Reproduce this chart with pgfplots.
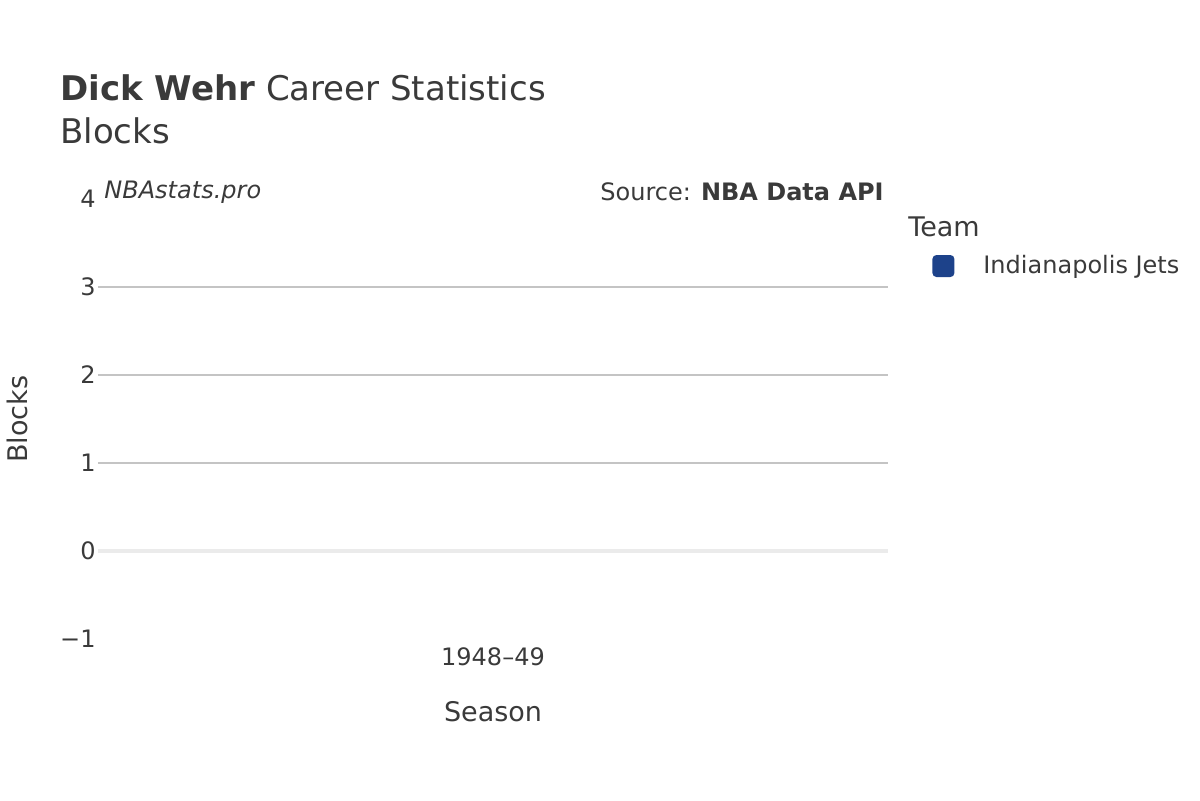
\documentclass[border=0pt]{standalone}
\usepackage{pgfplots}
\pgfplotsset{compat=1.18}
\usepackage{fontspec}
\setmainfont{DejaVu Sans}
\definecolor{txt}{HTML}{3A3A3A}
\definecolor{gridc}{HTML}{C4C4C4}
\definecolor{zeroc}{HTML}{EBEBEB}
\definecolor{jets}{HTML}{1D428A}
\begin{document}
\begin{tikzpicture}
% page frame: 1200x800 px at 0.5pt per px
\path (0,0) rectangle (600pt,400pt);
\begin{axis}[
    at={(49pt,80.5pt)}, anchor=south west,
    scale only axis, width=395pt, height=220pt,
    xmin=-0.5, xmax=0.5, ymin=-1, ymax=4,
    axis line style={draw=none},
    tick style={draw=none},
    xtick={0}, xticklabels={1948–49},
    ytick={1,2,3}, yticklabels={1,2,3},
    extra y ticks={-1,0,4}, extra y tick labels={−1,0,4},
    extra y tick style={grid=none},
    ymajorgrids, grid style={gridc, line width=0.8pt},
    ticklabel style={font=\fontsize{12pt}{14pt}\selectfont, text=txt},
    yticklabel style={inner sep=0pt, xshift=-1pt},
    xticklabel style={inner sep=0pt, yshift=-4pt},
    xlabel={Season}, ylabel={Blocks},
    label style={font=\fontsize{13.5pt}{16pt}\selectfont, text=txt},
    xlabel style={at={(0.5,0)}, anchor=base, yshift=-41pt},
    ylabel style={at={(0,0.5)}, anchor=center, inner sep=0pt, yshift=40.5pt},
    legend style={at={(1.0557,0.8477)}, anchor=west, draw=none, fill=none,
        inner sep=0pt, font=\fontsize{12pt}{14pt}\selectfont, text=txt,
        nodes={inner sep=0pt}},
    legend image code/.code={
        \path[draw=none] (0pt,0pt) -- (25.5pt,0pt);
        \fill[jets, draw=none, rounded corners=2pt] (0pt,-5.5pt) rectangle (11pt,5.5pt);},
]
% zero line
\draw[zeroc, line width=1.6pt] (rel axis cs:0,0.2) -- (rel axis cs:1,0.2);
% no blocks recorded for the season: legend only
\addlegendimage{}
\addlegendentry{Indianapolis Jets}
\end{axis}
\begin{scope}[x=0.5pt, y=-0.5pt, shift={(0,400pt)}]
\node[anchor=base west, inner sep=0pt, text=txt, font=\fontsize{17pt}{20pt}\selectfont] at (60,101) {\textbf{Dick Wehr} Career Statistics};
\node[anchor=base west, inner sep=0pt, text=txt, font=\fontsize{17pt}{20pt}\selectfont] at (60,144) {Blocks};
\node[anchor=west, inner sep=0pt, text=txt, font=\fontsize{12pt}{14pt}\selectfont\itshape] at (104,192) {NBAstats.pro};
\node[anchor=east, inner sep=0pt, text=txt, font=\fontsize{12pt}{14pt}\selectfont] at (884,192) {Source: \textbf{NBA Data API}};
\node[anchor=west, inner sep=0pt, text=txt, font=\fontsize{13.5pt}{16pt}\selectfont] at (908,227) {Team};
\end{scope}
\end{tikzpicture}
\end{document}
